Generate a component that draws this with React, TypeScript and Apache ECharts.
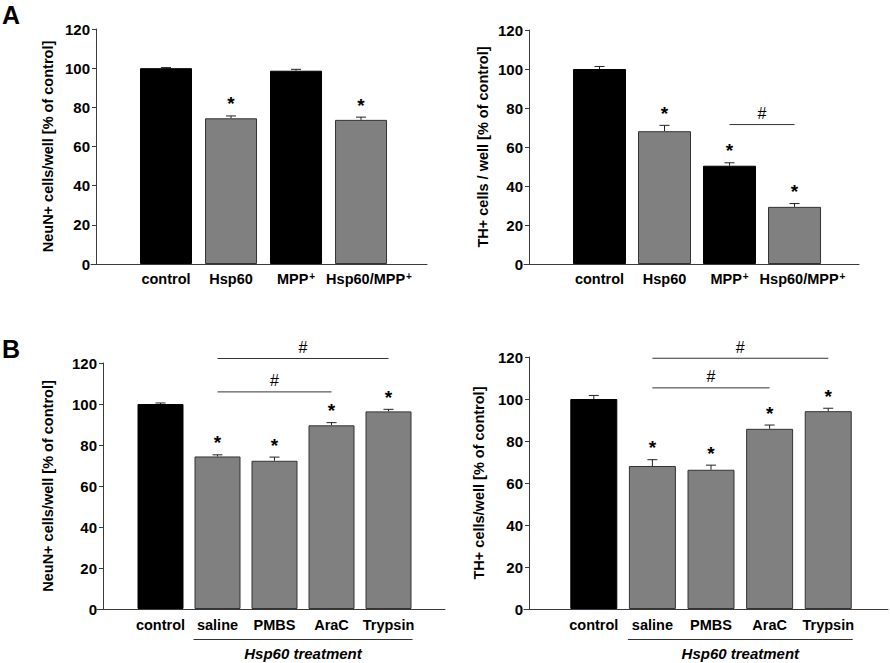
import React, { useEffect, useRef } from 'react';
import * as echarts from 'echarts';

const FONT = '"Liberation Sans", Arial, Helvetica, sans-serif';

// ---- data ----
const catsA = ['control', 'Hsp60', 'MPP+', 'Hsp60/MPP+'];
const catsB = ['control', 'saline', 'PMBS', 'AraC', 'Trypsin'];

const neunA = [100, 74.4, 98.7, 73.6];
const neunAErr = [0.3, 1.2, 0.7, 1.4];
const neunAStar = [false, true, false, true];

const thA = [100, 68.1, 50.4, 29.3];
const thAErr = [1.3, 3.0, 1.5, 1.7];
const thAStar = [false, true, true, true];

const neunB = [100, 74.4, 72.3, 89.6, 96.4];
const neunBErr = [0.5, 0.8, 1.8, 1.3, 1.0];
const thB = [100, 68.1, 66.3, 85.8, 94.2];
const thBErr = [1.7, 3.0, 2.2, 1.8, 1.4];
const starB = [false, true, true, true, true];

const kindA = ['black', 'gray', 'black', 'gray'];
const kindB = ['black', 'gray', 'gray', 'gray', 'gray'];

// significance brackets: [from category #, to category #, y value]
const sigThA = [[3, 4, 71.5]];
const sigNeunB = [[2, 4, 105.9], [2, 5, 122.2]];
const sigThB = [[2, 4, 105.3], [2, 5, 119.4]];
const treatmentRange = [2, 5];
const treatmentLabel = 'Hsp60 treatment';

const yTitleNeun = 'NeuN+ cells/well [% of control]';
const yTitleThA = 'TH+ cells / well [% of control]';
const yTitleThB = 'TH+ cells/well [% of control]';

const COLORS: Record<string, string> = { black: '#000000', gray: '#808080' };

type Layout = {
  left: number; width: number; top: number; height: number;
  xmin: number; xmax: number; yOffset: number; nameGap: number; barWidth: number; labelMargin: number;
};

const layouts: Layout[] = [
  { left: 91, width: 336, top: 29, height: 235, xmin: -0.154, xmax: 5.015, yOffset: -5, nameGap: 41, barWidth: 52, labelMargin: 7 },
  { left: 524, width: 335, top: 30, height: 234, xmin: -0.1615, xmax: 4.992, yOffset: -5, nameGap: 39, barWidth: 53, labelMargin: 7 },
  { left: 97, width: 348, top: 363, height: 246, xmin: -0.114, xmax: 5.991, yOffset: -6, nameGap: 48, barWidth: 46, labelMargin: 8 },
  { left: 524, width: 364, top: 357, height: 252, xmin: -0.191, xmax: 6.02, yOffset: -5, nameGap: 43, barWidth: 47, labelMargin: 8 },
];

type PanelData = {
  cats: string[]; vals: number[]; errs: number[]; stars: boolean[]; kinds: string[];
  sig: number[][]; title: string; treatment: boolean;
};

const panels: PanelData[] = [
  { cats: catsA, vals: neunA, errs: neunAErr, stars: neunAStar, kinds: kindA, sig: [], title: yTitleNeun, treatment: false },
  { cats: catsA, vals: thA, errs: thAErr, stars: thAStar, kinds: kindA, sig: sigThA, title: yTitleThA, treatment: false },
  { cats: catsB, vals: neunB, errs: neunBErr, stars: starB, kinds: kindB, sig: sigNeunB, title: yTitleNeun, treatment: true },
  { cats: catsB, vals: thB, errs: thBErr, stars: starB, kinds: kindB, sig: sigThB, title: yTitleThB, treatment: true },
];

function formatCat(name: string) {
  if (!name.endsWith('+')) return name;
  const base = name.slice(0, -1);
  // long labels sit slightly right of their bar in the original
  return base.length > 4 ? '{pad|' + base + '}{sup|+}' : base + '{sup|+}';
}

function buildOption() {
  const grid: any[] = [];
  const xAxis: any[] = [];
  const yAxis: any[] = [];
  const series: any[] = [];

  panels.forEach((p, i) => {
    const L = layouts[i];
    grid.push({ left: L.left, top: L.top, width: L.width, height: L.height, containLabel: false });
    xAxis.push({
      gridIndex: i, type: 'value', min: L.xmin, max: L.xmax,
      axisLine: { show: true, onZero: false, lineStyle: { color: '#3a3a3a', width: 1 } },
      axisTick: { show: false },
      splitLine: { show: false },
      axisLabel: {
        customValues: p.cats.map((_, k) => k + 1),
        margin: L.labelMargin,
        fontFamily: FONT, fontWeight: 'bold', fontSize: 14.5, color: '#000',
        formatter: (v: number) => formatCat(p.cats[Math.round(v) - 1] || ''),
        rich: {
          pad: { fontFamily: FONT, fontWeight: 'bold', fontSize: 14.5, color: '#000', padding: [0, 0, 0, 16] },
          sup: { fontFamily: FONT, fontWeight: 'bold', fontSize: 10, color: '#000', verticalAlign: 'top', padding: [0, 0, 5, 1] },
        },
      },
    });
    yAxis.push({
      gridIndex: i, type: 'value', min: 0, max: 120, interval: 20, offset: L.yOffset,
      axisLine: { show: true, onZero: false, lineStyle: { color: '#3a3a3a', width: 1 } },
      axisTick: { show: true, inside: false, length: 4, lineStyle: { color: '#3a3a3a' } },
      splitLine: { show: false },
      axisLabel: { margin: 6, fontFamily: FONT, fontWeight: 'bold', fontSize: 15, color: '#000' },
      name: p.title, nameLocation: 'middle', nameRotate: 90, nameGap: L.nameGap,
      nameTextStyle: { fontFamily: FONT, fontWeight: 'bold', fontSize: 14.5, color: '#000' },
    });

    // bars
    series.push({
      type: 'bar', xAxisIndex: i, yAxisIndex: i, barWidth: L.barWidth,
      data: p.vals.map((v, k) => ({
        value: [k + 1, v],
        itemStyle: { color: COLORS[p.kinds[k]], borderColor: p.kinds[k] === 'black' ? '#000' : '#333', borderWidth: 1 },
      })),
    });

    // error bars (upper whisker)
    series.push({
      type: 'custom', xAxisIndex: i, yAxisIndex: i,
      data: p.vals.map((v, k) => [k + 1, v, p.errs[k]]),
      renderItem: (_params: any, api: any) => {
        const x = api.value(0), y = api.value(1), e = api.value(2);
        const base = api.coord([x, y]);
        const top = api.coord([x, y + e]);
        return {
          type: 'group',
          children: [
            { type: 'line', shape: { x1: base[0], y1: base[1], x2: top[0], y2: top[1] }, style: { stroke: '#222', lineWidth: 1 } },
            { type: 'line', shape: { x1: top[0] - 5, y1: top[1], x2: top[0] + 5, y2: top[1] }, style: { stroke: '#222', lineWidth: 1 } },
          ],
        };
      },
    });

    // asterisks
    series.push({
      type: 'custom', xAxisIndex: i, yAxisIndex: i,
      data: p.vals.map((v, k) => [k + 1, v + p.errs[k]]).filter((_, k) => p.stars[k]),
      renderItem: (_params: any, api: any) => {
        const pt = api.coord([api.value(0), api.value(1)]);
        return {
          type: 'text', x: pt[0], y: pt[1] - 12,
          style: { text: '*', fontFamily: FONT, fontWeight: 'bold', fontSize: 19, fill: '#000', align: 'center', verticalAlign: 'middle' },
        };
      },
    });

    // significance brackets
    if (p.sig.length) {
      series.push({
        type: 'custom', xAxisIndex: i, yAxisIndex: i, clip: false,
        data: p.sig,
        renderItem: (_params: any, api: any) => {
          const a = api.coord([api.value(0), api.value(2)]);
          const b = api.coord([api.value(1), api.value(2)]);
          return {
            type: 'group',
            children: [
              { type: 'line', shape: { x1: a[0], y1: a[1], x2: b[0], y2: b[1] }, style: { stroke: '#333', lineWidth: 1 } },
              {
                type: 'text', x: (a[0] + b[0]) / 2, y: a[1] - 11,
                style: { text: '#', fontFamily: FONT, fontSize: 16, fill: '#000', align: 'center', verticalAlign: 'middle' },
              },
            ],
          };
        },
      });
    }

    // treatment bracket below axis
    if (p.treatment) {
      const half = L.barWidth / 2;
      series.push({
        type: 'custom', xAxisIndex: i, yAxisIndex: i, clip: false,
        data: [[treatmentRange[0], treatmentRange[1], 0]],
        renderItem: (_params: any, api: any) => {
          const a = api.coord([api.value(0), api.value(2)]);
          const b = api.coord([api.value(1), api.value(2)]);
          const x1 = a[0] - half - 1, x2 = b[0] + half + 1;
          return {
            type: 'group',
            children: [
              { type: 'line', shape: { x1, y1: a[1] + 30.5, x2, y2: a[1] + 30.5 }, style: { stroke: '#333', lineWidth: 1 } },
              {
                type: 'text', x: (x1 + x2) / 2, y: a[1] + 44,
                style: { text: treatmentLabel, fontFamily: FONT, fontSize: 15, fontWeight: 'bold', fontStyle: 'italic', fill: '#000', align: 'center', verticalAlign: 'middle' },
              },
            ],
          };
        },
      });
    }
  });

  return {
    animation: false,
    backgroundColor: '#ffffff',
    grid, xAxis, yAxis, series,
    graphic: [
      { type: 'text', left: 2, top: 2, style: { text: 'A', fontFamily: FONT, fontWeight: 'bold', fontSize: 25, fill: '#000' } },
      { type: 'text', left: 2, top: 336, style: { text: 'B', fontFamily: FONT, fontWeight: 'bold', fontSize: 25, fill: '#000' } },
    ],
  };
}

export default function App() {
  const ref = useRef<HTMLDivElement>(null);
  useEffect(() => {
    if (!ref.current) return;
    const chart = echarts.init(ref.current, undefined, { renderer: 'svg' });
    chart.setOption(buildOption() as any);
    return () => chart.dispose();
  }, []);
  return <div ref={ref} style={{ width: 890, height: 663, position: 'absolute', left: 0, top: 0 }} />;
}
